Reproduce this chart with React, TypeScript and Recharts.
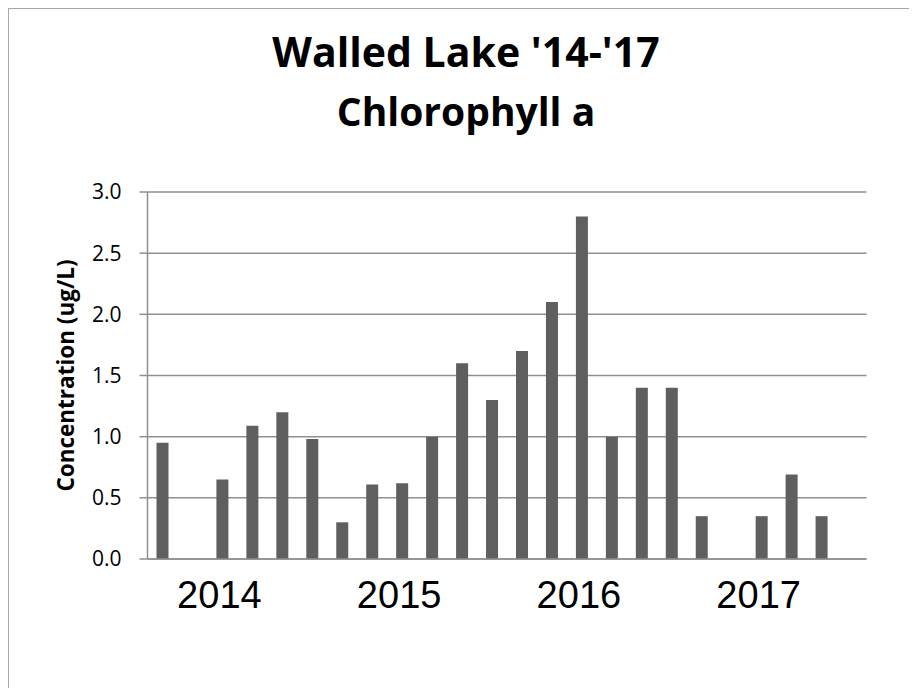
import { Bar, BarChart, CartesianGrid, XAxis, YAxis } from "recharts"

const years = ["2014", "2015", "2016", "2017"]
const chl2014 = [0.95, null, 0.65, 1.09, 1.2, 0.98]
const chl2015 = [0.3, 0.61, 0.62, 1.0, 1.6, 1.3]
const chl2016 = [1.7, 2.1, 2.8, 1.0, 1.4, 1.4]
const chl2017 = [0.35, null, 0.35, 0.69, 0.35, null]
const yTicks = [0, 0.5, 1, 1.5, 2, 2.5, 3]

// the year label sits under the 3rd sample of each year
const labelSlot = 2

const data = [chl2014, chl2015, chl2016, chl2017].flatMap((vals, yi) =>
  vals.map((v, i) => ({
    sample: `${years[yi]}-${i + 1}`,
    year: years[yi],
    slot: i,
    chl: v
  }))
)

const frame = "#a6a6a6"
const grid = "#8f8f8f"

function YearTick(props: any) {
  const { x, y, index } = props
  const d = data[index]
  if (!d || d.slot !== labelSlot) return null
  return (
    <text
      x={x - 3}
      y={y + 49}
      textAnchor="middle"
      fontFamily="'Liberation Sans', Arial, sans-serif"
      fontSize={38}
      fill="#000"
    >
      {d.year}
    </text>
  )
}

export default function App() {
  return (
    <div
      style={{
        position: "relative",
        margin: "-1px 0 0 -1px",
        width: 910,
        height: 681,
        borderTop: `2px solid ${frame}`,
        borderLeft: `2px solid ${frame}`,
        background: "#fff",
        fontFamily: "'Open Sans', sans-serif"
      }}
    >
      <div
        style={{
          position: "absolute",
          left: 2,
          top: 22,
          width: 910,
          textAlign: "center",
          fontWeight: 700,
          fontSize: 41,
          lineHeight: "40px"
        }}
      >
        Walled Lake '14-'17
      </div>
      <div
        style={{
          position: "absolute",
          left: 2,
          top: 82,
          width: 910,
          textAlign: "center",
          fontWeight: 700,
          fontSize: 39,
          lineHeight: "40px"
        }}
      >
        Chlorophyll a
      </div>
      <BarChart
        width={908}
        height={679}
        data={data}
        margin={{ top: 183, right: 50.5, bottom: 69, left: 0 }}
        barSize={12}
      >
        <CartesianGrid vertical={false} stroke={grid} strokeWidth={1.5} />
        <XAxis
          dataKey="sample"
          interval={0}
          tick={<YearTick />}
          tickLine={false}
          tickSize={0}
          tickMargin={0}
          height={60}
          axisLine={{ stroke: grid, strokeWidth: 1.5 }}
        />
        <YAxis
          width={138.5}
          domain={[0, 3]}
          ticks={yTicks}
          tickFormatter={v => v.toFixed(1)}
          tickSize={8}
          tickMargin={18}
          tick={{ fill: "#000", fontSize: 21, fontFamily: "'Open Sans', sans-serif" }}
          tickLine={{ stroke: grid, strokeWidth: 1.5 }}
          axisLine={{ stroke: grid, strokeWidth: 1.5 }}
          label={{
            value: "Concentration (ug/L)",
            angle: -90,
            position: "insideLeft",
            offset: 57,
            style: {
              textAnchor: "middle",
              fontWeight: 700,
              fontSize: 22.5,
              fill: "#000",
              fontFamily: "'Open Sans', sans-serif"
            }
          }}
        />
        <Bar dataKey="chl" fill="#5f5f5f" isAnimationActive={false} />
      </BarChart>
    </div>
  )
}
